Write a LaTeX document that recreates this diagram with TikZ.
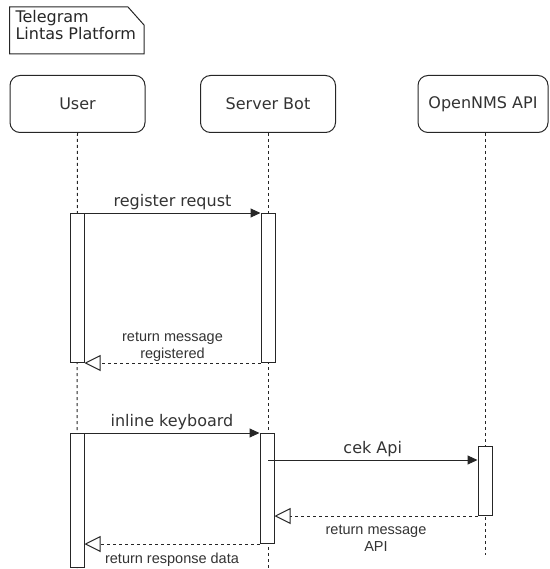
\documentclass[tikz,border=0pt]{standalone}
\usepackage{fontspec}
\setmainfont{DejaVu Sans}
\newfontfamily\retfont{Liberation Sans}
\usetikzlibrary{arrows.meta}
\begin{document}
\begin{tikzpicture}[x=1pt,y=-1pt, line width=1pt, draw=black!85,
  head/.style={draw, rounded corners=10pt, minimum width=135pt, minimum height=57pt, font=\fontsize{16}{18}\selectfont, inner sep=0pt, text=black!80},
  act/.style={draw, fill=white, minimum width=14pt, inner sep=0pt, anchor=north},
  life/.style={dash pattern=on 3pt off 3pt},
  msg/.style={-{Triangle[length=10pt,width=9pt]}},
  ret/.style={dash pattern=on 3pt off 3pt, -{Triangle[open,length=16pt,width=16pt]}},
  lbl/.style={font=\fontsize{16}{18}\selectfont, text=black!80, inner sep=1pt},
  rlbl/.style={font=\retfont\fontsize{14.5}{17}\selectfont, align=center, text=black!80, inner sep=1pt}]
\useasboundingbox (0,0) rectangle (549,569);
% note
\draw (9.5,7) -- (128,7) -- (144,25) -- (144,54) -- (9.5,54) -- cycle;
\node[anchor=north west, align=left, font=\fontsize{16}{15}\selectfont, inner sep=0pt, text=black!85] (note) at (15,10) {Telegram\\Lintas Platform};
% heads
\node[head] (user) at (77.5,104) {User};
\node[head] (srv) at (268,104) {Server Bot};
\node[head, minimum width=130pt] (api) at (483,104) {OpenNMS API};
\coordinate (uend) at (77,569);
\coordinate (send) at (268,569);
\coordinate (aend) at (485,555);
\draw[life] (user.south) -- (uend);
\draw[life] (srv.south) -- (send);
\draw[life] (api.south -| aend) -- (aend);
% activations
\node[act, minimum height=149pt] (ua1) at (77,213) {};
\node[act, minimum height=149pt] (sa1) at (268,213) {};
\node[act, minimum height=134pt] (ua2) at (77,433) {};
\node[act, minimum height=110pt] (sa2) at (267,433) {};
\node[act, minimum height=69pt] (oa) at (485,446) {};
% messages
\draw[msg] (ua1.north east) -- (sa1.north west) node[midway, above=2pt, lbl] (m1) {register requst};
\draw[ret] (sa1.south west) -- (ua1.south east) node[midway, above=0pt, rlbl] (m2) {return message\\registered};
\draw[msg] (ua2.north east) -- (sa2.north west) node[midway, above=2pt, lbl] (m3) {inline keyboard};
\coordinate (c1) at (268,460);
\draw[msg] (c1) -- (c1 -| oa.west) node[midway, above=2pt, lbl] (m4) {cek Api};
\draw[ret] (oa.south west) -- (oa.south west -| sa2.east) node[midway, below=8pt, rlbl] (m5) {return message\\API};
\draw[ret] (sa2.south west) -- (sa2.south west -| ua2.east) node[midway, below=7pt, rlbl] (m6) {return response data};
\end{tikzpicture}
\end{document}
